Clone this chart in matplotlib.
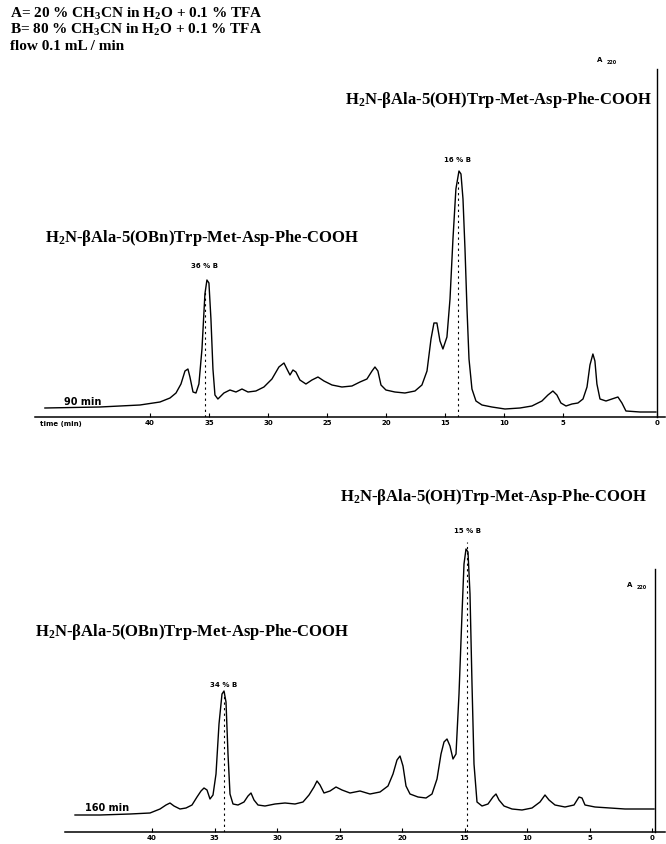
import matplotlib
matplotlib.use("Agg")
import matplotlib.pyplot as plt

# Eluent / run conditions
CONDITIONS = [
    "A= 20 % CH$_3$CN in H$_2$O + 0.1 % TFA",
    "B= 80 % CH$_3$CN in H$_2$O + 0.1 % TFA",
    "flow 0.1 mL / min",
]
PEPTIDE_OH = "H$_2$N-βAla-5(OH)Trp-Met-Asp-Phe-COOH"
PEPTIDE_OBN = "H$_2$N-βAla-5(OBn)Trp-Met-Asp-Phe-COOH"

# 90 min gradient: retention time (min) and detector signal (a.u.)
TOP_TIME = [48.90, 44.24, 40.85, 39.15, 38.30, 37.79, 37.37, 37.03, 36.78, 36.61,
            36.35, 36.10, 35.85, 35.59, 35.34, 35.17, 35.00, 34.83, 34.66, 34.49,
            34.24, 33.73, 33.22, 32.71, 32.20, 31.69, 31.02, 30.34, 29.66, 29.07,
            28.64, 28.39, 28.13, 27.88, 27.63, 27.29, 26.78, 26.27, 25.76, 25.25,
            24.57, 23.73, 22.88, 22.20, 21.61, 21.18, 20.93, 20.68, 20.42, 20.00,
            19.24, 18.39, 17.54, 16.95, 16.52, 16.18, 15.93, 15.68, 15.42, 15.17,
            14.83, 14.57, 14.32, 14.07, 13.81, 13.64, 13.47, 13.30, 13.13, 12.96,
            12.71, 12.37, 11.86, 11.02, 9.91, 8.64, 7.63, 6.78, 6.27, 5.85,
            5.51, 5.17, 4.74, 4.24, 3.73, 3.30, 2.96, 2.71, 2.46, 2.29,
            2.12, 1.86, 1.35, 0.85, 0.34, 0.00, -0.34, -1.53, -2.88]
TOP_SIGNAL = [9, 10, 12, 15, 19, 24, 33, 46, 48, 40,
              25, 24, 33, 68, 123, 137, 134, 98, 48, 22,
              18, 24, 27, 25, 28, 25, 26, 30, 38, 50,
              54, 48, 42, 47, 45, 37, 33, 37, 40, 36,
              32, 30, 31, 35, 38, 46, 50, 46, 32, 27,
              25, 24, 26, 32, 46, 78, 94, 94, 76, 68,
              80, 118, 178, 228, 246, 243, 218, 168, 108, 58,
              28, 16, 12, 10, 8, 9, 11, 16, 22, 26,
              22, 14, 11, 13, 14, 18, 30, 52, 63, 56,
              33, 18, 16, 18, 20, 14, 6, 5, 5]

# 160 min gradient
BOT_TIME = [46.16, 44.16, 41.76, 40.16, 39.36, 38.88, 38.56, 38.24, 37.76, 37.28,
            36.80, 36.40, 36.08, 35.84, 35.60, 35.36, 35.12, 34.88, 34.64, 34.40,
            34.24, 34.08, 33.92, 33.76, 33.52, 33.12, 32.64, 32.32, 32.08, 31.84,
            31.52, 30.96, 30.16, 29.36, 28.56, 27.92, 27.44, 27.04, 26.80, 26.56,
            26.24, 25.76, 25.28, 24.80, 24.16, 23.36, 22.56, 21.76, 21.12, 20.72,
            20.40, 20.16, 19.92, 19.68, 19.36, 18.72, 18.08, 17.60, 17.20, 16.88,
            16.64, 16.40, 16.16, 15.92, 15.68, 15.44, 15.20, 15.04, 14.88, 14.72,
            14.56, 14.40, 14.24, 14.00, 13.60, 13.12, 12.72, 12.48, 12.24, 11.84,
            11.20, 10.40, 9.60, 8.96, 8.56, 8.24, 7.76, 6.96, 6.24, 5.84,
            5.60, 5.36, 4.56, 3.36, 2.16, 0.96, -0.16]
BOT_SIGNAL = [17, 17, 18, 19, 23, 27, 29, 26, 23, 24,
              27, 35, 41, 44, 42, 33, 37, 58, 108, 138,
              141, 130, 78, 38, 28, 27, 30, 36, 39, 32,
              27, 26, 28, 29, 28, 30, 37, 45, 51, 47,
              39, 41, 45, 42, 39, 41, 38, 40, 46, 58,
              72, 76, 66, 46, 38, 35, 34, 38, 53, 78,
              90, 93, 86, 73, 78, 138, 218, 268, 283, 280,
              238, 148, 68, 30, 26, 28, 35, 38, 32, 26,
              23, 22, 24, 30, 37, 32, 27, 25, 27, 35,
              34, 27, 25, 24, 23, 23, 23]

# marked peaks: (time, top of marker line, label, label height)
TOP_MARKS = [(35.34, 128, "36 % B", 152), (13.90, 238, "16 % B", 258)]
BOT_MARKS = [(34.24, 140, "34 % B", 148), (14.80, 290, "15 % B", 302)]

TOP_TICKS = [40, 35, 30, 25, 20, 15, 10, 5, -2.97]
BOT_TICKS = [40, 35, 30, 25, 20, 15, 10, 5, 0]
TICK_LABELS = ["40", "35", "30", "25", "20", "15", "10", "5", "0"]

W, H = 666, 845
SERIF = ["Liberation Serif", "DejaVu Serif"]
plt.rcParams["mathtext.default"] = "regular"


def fx(x):
    return x / W


def fy(y):
    return 1 - y / H


def draw_trace(ax, t, s, marks, ticks, end_time, end_height, xlim):
    ax.plot(t, s, color="black", lw=1.0)
    ax.plot([end_time, end_time], [0, end_height], color="black", lw=1.0, clip_on=False)
    for rt, top, label, ly in marks:
        ax.plot([rt, rt], [0, top], color="black", lw=0.8, ls=(0, (2, 3)))
        ax.text(rt, ly, label, ha="center", va="center", fontsize=5,
                fontweight="bold", family="DejaVu Sans")
    ax.set_xlim(*xlim)
    ax.set_ylim(0, 358)
    for side in ["top", "left", "right"]:
        ax.spines[side].set_visible(False)
    ax.spines["bottom"].set_linewidth(1.1)
    ax.set_yticks([])
    ax.set_xticks(ticks)
    ax.set_xticklabels(TICK_LABELS)
    ax.tick_params(axis="x", direction="in", length=3, width=0.8, pad=1.5,
                   labelsize=5)
    for lbl in ax.get_xticklabels():
        lbl.set_fontweight("bold")
    ax.patch.set_alpha(0)


fig = plt.figure(figsize=(W / 100, H / 100), dpi=100)

ax_top = fig.add_axes([fx(35), fy(418), 630 / W, 358 / H])
draw_trace(ax_top, TOP_TIME, TOP_SIGNAL, TOP_MARKS, TOP_TICKS,
           -2.97, 348, (49.74, -3.65))

ax_bot = fig.add_axes([fx(65), fy(833), 600 / W, 358 / H])
draw_trace(ax_bot, BOT_TIME, BOT_SIGNAL, BOT_MARKS, BOT_TICKS,
           -0.24, 263, (46.96, -1.04))

# header
for i, line in enumerate(CONDITIONS):
    fig.text(fx(10), fy(14 + 16 * i), line, ha="left", va="center",
             fontsize=11, fontweight="bold", family=SERIF)

fig.text(fx(600), fy(60), "A", fontsize=5, fontweight="bold", ha="center", va="center")
fig.text(fx(607), fy(63), "220", fontsize=3.5, fontweight="bold", ha="left", va="center")
fig.text(fx(630), fy(585), "A", fontsize=5, fontweight="bold", ha="center", va="center")
fig.text(fx(637), fy(588), "220", fontsize=3.5, fontweight="bold", ha="left", va="center")

NAME_SIZE = 12
fig.text(fx(345), fy(100), PEPTIDE_OH, ha="left", va="center", fontsize=NAME_SIZE,
         fontweight="bold", family=SERIF)
fig.text(fx(45), fy(238), PEPTIDE_OBN, ha="left", va="center", fontsize=NAME_SIZE,
         fontweight="bold", family=SERIF)
fig.text(fx(340), fy(497), PEPTIDE_OH, ha="left", va="center", fontsize=NAME_SIZE,
         fontweight="bold", family=SERIF)
fig.text(fx(35), fy(632), PEPTIDE_OBN, ha="left", va="center", fontsize=NAME_SIZE,
         fontweight="bold", family=SERIF)

fig.text(fx(64), fy(402), "90 min", ha="left", va="center", fontsize=7, fontweight="bold")
fig.text(fx(85), fy(808), "160 min", ha="left", va="center", fontsize=7, fontweight="bold")
fig.text(fx(40), fy(424), "time (min)", ha="left", va="center", fontsize=5, fontweight="bold")

fig.savefig("out.png", dpi=100)
